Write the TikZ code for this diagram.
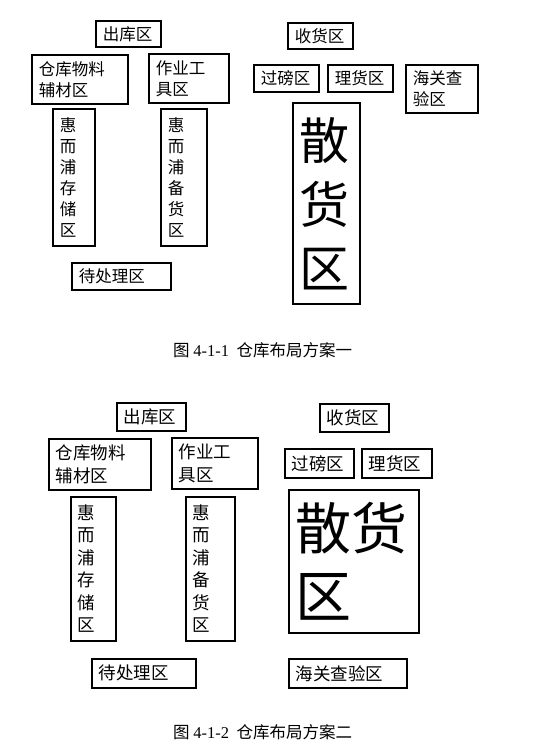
\documentclass[tikz,border=0pt]{standalone}
\usepackage{fontspec}
\setmainfont{Noto Sans CJK SC}
\newfontfamily\numfont{Liberation Serif}
\usepackage{tikz}
\usetikzlibrary{positioning}

\newcommand{\planAfont}{\fontsize{16.5}{21}\selectfont}
\newcommand{\planBfont}{\fontsize{17.5}{22.5}\selectfont}

\begin{document}
\begin{tikzpicture}[x=1pt, y=-1pt,
    zone/.style={draw, line width=1.6pt, anchor=north west, inner xsep=7pt, inner ysep=0pt, align=left},
    zoneA/.style={zone, font=\planAfont},
    zoneB/.style={zone, font=\planBfont},
    caption/.style={anchor=west, inner sep=0pt, font=\fontsize{16.5}{20}\selectfont}]
    \useasboundingbox (0,0) rectangle (545,744);

    % Plan 1: outbound side
    \node[zoneA, text width=51pt, minimum height=26pt] (chuku1) at (95,20) {出库区};
    \node[zoneA, text width=82pt, minimum height=49pt] (fuliao1) at (31,54) {仓库物料\\辅材区};
    \node[zoneA, text width=66pt, minimum height=49pt] (gongju1) at (148,53) {作业工\\具区};
    \node[zoneA, text width=28pt, minimum height=137pt] (cunchu1) at (52,108) {惠\\而\\浦\\存\\储\\区};
    \node[zoneA, text width=32pt, minimum height=137pt] (beihuo1) at (160,108) {惠\\而\\浦\\备\\货\\区};
    \node[zoneA, text width=85pt, minimum height=27pt] (daichuli1) at (71,262) {待处理区};

    % Plan 1: inbound side
    \node[zoneA, text width=51pt, minimum height=26pt] (shouhuo1) at (287,22) {收货区};
    \node[zoneA, text width=51pt, minimum height=27pt] (guobang1) at (253,64) {过磅区};
    \node[zoneA, text width=51pt, minimum height=27pt] (lihuo1) at (327,64) {理货区};
    \node[zoneA, text width=58pt, minimum height=48pt] (haiguan1) at (405,64) {海关查\\验区};
    \node[zone, font=\fontsize{50}{64}\selectfont, text width=53pt, minimum height=201pt] (sanhuo1) at (292,102) {散\\货\\区};

    \node[caption] (cap1) at (173,350) {图\ {\numfont 4-1-1}\ \ 仓库布局方案一};

    % Plan 2: outbound side
    \node[zoneB, text width=55pt, minimum height=28pt] (chuku2) at (116,402) {出库区};
    \node[zoneB, text width=88pt, minimum height=51pt] (fuliao2) at (48,438) {仓库物料\\辅材区};
    \node[zoneB, text width=72pt, minimum height=51pt] (gongju2) at (171,437) {作业工\\具区};
    \node[zoneB, text width=31pt, minimum height=144pt] (cunchu2) at (70,496) {惠\\而\\浦\\存\\储\\区};
    \node[zoneB, text width=35pt, minimum height=144pt] (beihuo2) at (185,496) {惠\\而\\浦\\备\\货\\区};
    \node[zoneB, text width=90pt, minimum height=29pt] (daichuli2) at (91,658) {待处理区};

    % Plan 2: inbound side
    \node[zoneB, text width=55pt, minimum height=28pt] (shouhuo2) at (319,403) {收货区};
    \node[zoneB, text width=55pt, minimum height=29pt] (guobang2) at (284,448) {过磅区};
    \node[zoneB, text width=56pt, minimum height=29pt] (lihuo2) at (361,448) {理货区};
    \node[zone, font=\fontsize{56}{68}\selectfont, text width=116pt, minimum height=143pt] (sanhuo2) at (288,489) {散货\\区};
    \node[zoneB, text width=104pt, minimum height=29pt] (haiguan2) at (288,658) {海关查验区};

    \node[caption] (cap2) at (173,732) {图\ {\numfont 4-1-2}\ \ 仓库布局方案二};

\end{tikzpicture}
\end{document}
